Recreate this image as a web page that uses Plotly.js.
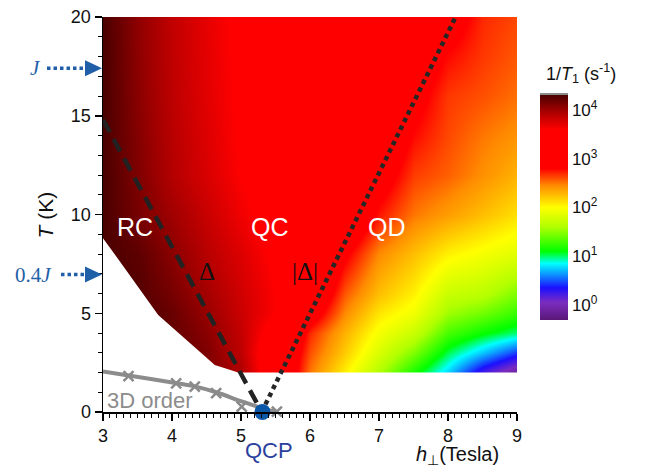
<!DOCTYPE html>
<html><head><meta charset="utf-8">
<script src="https://cdn.plot.ly/plotly-3.0.1.min.js"></script>
<style>html,body{margin:0;padding:0;background:#fff}</style>
</head><body><div id="chart" style="width:647px;height:471px"></div>
<script>
// field grid: transverse field h (T) and temperature T (K); values are log10(1/T1 / s^-1)
const hField = [3, 3.5, 4, 4.5, 5, 5.5, 6, 6.5, 7, 7.5, 8, 8.5, 9];
const tField = [2, 3, 4, 5, 6, 8, 10, 12, 14, 16, 18, 20];
const logRate = [
  [4.31, 4.30, 4.25, 4.12, 3.95, 3.30, 2.50, 2.05, 1.60, 1.15, 0.75, 0.20, -0.15],
  [4.31, 4.30, 4.25, 4.12, 3.88, 3.30, 2.60, 2.20, 1.80, 1.45, 1.02, 0.72, 0.42],
  [4.31, 4.30, 4.22, 4.08, 3.85, 3.45, 2.70, 2.30, 1.95, 1.72, 1.30, 1.12, 0.98],
  [4.31, 4.30, 4.20, 4.03, 3.82, 3.60, 3.00, 2.45, 2.10, 1.93, 1.55, 1.42, 1.25],
  [4.31, 4.28, 4.15, 3.98, 3.80, 3.60, 3.20, 2.58, 2.25, 2.05, 1.72, 1.65, 1.45],
  [4.31, 4.24, 4.08, 3.90, 3.74, 3.56, 3.40, 2.85, 2.45, 2.25, 2.05, 1.95, 1.85],
  [4.31, 4.15, 4.00, 3.83, 3.66, 3.50, 3.38, 3.20, 2.75, 2.50, 2.38, 2.25, 2.12],
  [4.31, 4.12, 3.92, 3.76, 3.60, 3.48, 3.38, 3.28, 2.95, 2.65, 2.56, 2.43, 2.30],
  [4.31, 4.10, 3.90, 3.74, 3.58, 3.47, 3.38, 3.30, 3.10, 2.78, 2.62, 2.50, 2.42],
  [4.31, 4.08, 3.88, 3.72, 3.57, 3.46, 3.38, 3.30, 3.15, 2.90, 2.66, 2.60, 2.52],
  [4.31, 4.07, 3.87, 3.71, 3.56, 3.45, 3.38, 3.30, 3.20, 3.00, 2.78, 2.66, 2.58],
  [4.31, 4.06, 3.86, 3.70, 3.55, 3.45, 3.38, 3.30, 3.22, 3.12, 2.95, 2.70, 2.62]
];
// lower-left edge of the measured region
const edgeH = [3.0, 3.25, 3.54, 3.8, 4.21, 4.62, 4.96];
const edgeT = [8.8, 7.6, 6.18, 4.91, 3.65, 2.38, 2.0];
// gap lines
const gapH = [3.0, 5.3];
const gapT = [14.8, 0];
const absGapH = [5.3, 8.11];
const absGapT = [0, 20];
// 3D order boundary
const orderLineH = [3.0, 3.37, 4.05, 4.33, 4.64, 5.0, 5.3, 5.52];
const orderLineT = [2.05, 1.85, 1.47, 1.3, 1.0, 0.55, 0.2, 0];
const orderPtsH = [3.37, 4.06, 4.33, 4.64, 5.01, 5.52];
const orderPtsT = [1.82, 1.45, 1.28, 0.95, 0.27, 0.02];
// quantum critical point
const qcpH = [5.31];
const qcpT = [0];
// energy scales
const scaleNames = ['<i>J</i>', '0.4<i>J</i>'];
const scaleT = [17.4, 6.96];
// colorbar ticks (log10)
const cbTicks = [0, 1, 2, 3, 4];
const cbText = cbTicks.map(k => '10<sup>' + k + '</sup>');
const cmin = -0.31, cmax = 4.31;

const SANS = 'Liberation Sans, Arial, sans-serif';
const SERIF = 'Liberation Serif, Times New Roman, serif';

const colorscale = [
  [0, '#5a1878'], [0.078, '#7b2cc0'], [0.143, '#1c10ff'], [0.251, '#00ffff'],
  [0.305, '#00ff00'], [0.413, '#b0ff00'], [0.5, '#ffff00'], [0.597, '#ff8c00'],
  [0.673, '#ff0000'], [0.846, '#ff0000'], [0.933, '#a00000'], [1, '#4a0000']
];

const traces = [
  {
    type: 'heatmap', x: hField, y: tField, z: logRate, zsmooth: 'best',
    colorscale: colorscale, zmin: cmin, zmax: cmax, hoverinfo: 'skip',
    colorbar: {
      thickness: 28, thicknessmode: 'pixels', len: 225, lenmode: 'pixels',
      x: 1.0556, xanchor: 'left', xpad: 0, y: 0.5177, yanchor: 'middle', ypad: 0,
      outlinewidth: 0, ticks: '', tickvals: cbTicks, ticktext: cbText,
      tickfont: {family: SANS, size: 17, color: '#111'}
    }
  },
  {
    type: 'scatter', mode: 'lines', hoverinfo: 'skip', showlegend: false,
    x: [2.5].concat(edgeH, [9.5, 9.5, 2.5]),
    y: [edgeT[0]].concat(edgeT, [edgeT[edgeT.length - 1], -1, -1]),
    fill: 'toself', fillcolor: '#ffffff', line: {width: 0, color: 'rgba(0,0,0,0)'}
  },
  {
    type: 'scatter', mode: 'lines', x: gapH, y: gapT, hoverinfo: 'skip', showlegend: false,
    line: {color: '#222222', width: 4.5, dash: '14px,8px'}
  },
  {
    type: 'scatter', mode: 'lines', x: absGapH, y: absGapT, hoverinfo: 'skip', showlegend: false,
    line: {color: '#262626', width: 4.5, dash: '4.5px,4px'}
  },
  {
    type: 'scatter', mode: 'lines', x: orderLineH, y: orderLineT, hoverinfo: 'skip', showlegend: false,
    line: {color: '#8c8c8c', width: 4, shape: 'spline'}, cliponaxis: false
  },
  {
    type: 'scatter', mode: 'markers', x: orderPtsH, y: orderPtsT, hoverinfo: 'skip', showlegend: false,
    marker: {symbol: 'x-thin', size: 10, line: {color: '#8a8a8a', width: 2.5}}, cliponaxis: false
  },
  {
    type: 'scatter', mode: 'markers', x: qcpH, y: qcpT, hoverinfo: 'skip', showlegend: false,
    marker: {size: 16, color: '#0b57a8'}, cliponaxis: false
  }
];

const xp = px => (px - 103) / 414;
const yp = py => 1 - (py - 17) / 395;
const blue = '#1f5fa8';
const shapes = [];
const C = {xanchor: 'center', yanchor: 'middle', showarrow: false};
const annotations = [
  Object.assign({x: 3.46, y: 9.37, text: 'RC', font: {family: SANS, size: 25, color: '#fff'}}, C),
  Object.assign({x: 5.42, y: 9.37, text: 'QC', font: {family: SANS, size: 25, color: '#fff'}}, C),
  Object.assign({x: 7.12, y: 9.37, text: 'QD', font: {family: SANS, size: 25, color: '#fff'}}, C),
  Object.assign({x: 4.5, y: 7.1, text: 'Δ', font: {family: SERIF, size: 25, color: '#111'}}, C),
  Object.assign({x: 5.93, y: 7.1, text: '|Δ|', font: {family: SERIF, size: 25, color: '#111'}}, C),
  Object.assign({x: 3.68, y: 0.6, text: '3D order', font: {family: SANS, size: 22, color: '#8c8c8c'}}, C),
  Object.assign({x: qcpH[0] + 0.1, yref: 'paper', y: yp(450), text: 'QCP', font: {family: SANS, size: 22, color: '#2b3f9e'}}, C),
  Object.assign({xref: 'paper', yref: 'paper', x: xp(457), y: yp(456), text: '<i>h</i><sub>⊥</sub>(Tesla)',
   font: {family: SANS, size: 20, color: '#111'}}, C),
  Object.assign({xref: 'paper', x: xp(45), y: 10, text: '<i>T</i> (K)', textangle: -90,
   font: {family: SANS, size: 21, color: '#111'}}, C),
  Object.assign({xref: 'paper', yref: 'paper', x: xp(581), y: yp(73), text: '1/<i>T</i><sub>1</sub> (s<sup>-1</sup>)',
   font: {family: SANS, size: 18, color: '#111'}}, C)
];
scaleNames.forEach((name, i) => {
  const yy = scaleT[i] / 20;
  const textX = i === 0 ? 35 : 33;
  const lineStart = i === 0 ? 47 : 61;
  annotations.push(Object.assign({xref: 'paper', x: xp(textX), y: scaleT[i], text: name,
    font: {family: SERIF, size: 21, color: blue}}, C));
  shapes.push({type: 'line', xref: 'paper', yref: 'paper', x0: xp(lineStart), x1: xp(86), y0: yy, y1: yy,
    line: {color: blue, width: 3.5, dash: '3.5px,3px'}});
  const h = 8 / 395;
  shapes.push({type: 'path', xref: 'paper', yref: 'paper', fillcolor: blue, line: {width: 0},
    path: `M ${xp(85)} ${yy + h} L ${xp(102)} ${yy} L ${xp(85)} ${yy - h} Z`});
});
// thin grey cap at the top of the colour bar
shapes.push({type: 'rect', xref: 'paper', yref: 'paper', x0: xp(540), x1: xp(568), y0: yp(96), y1: yp(93),
  fillcolor: '#8a8a8a', line: {width: 0}});

const axisCommon = {
  showgrid: false, zeroline: false, showline: true, linecolor: '#000', linewidth: 1.5,
  ticks: 'outside', ticklen: 7, tickwidth: 1.5, tickcolor: '#000',
  tickfont: {family: SANS, size: 18, color: '#111'}
};
const layout = {
  width: 647, height: 471,
  margin: {l: 103, r: 130, t: 17, b: 59},
  paper_bgcolor: '#fff', plot_bgcolor: '#fff', showlegend: false,
  xaxis: Object.assign({}, axisCommon, {range: [3, 9], tickvals: [3,4,5,6,7,8,9],
    minor: {ticks: 'outside', dtick: 0.1, tick0: 3, ticklen: 4, tickwidth: 1, tickcolor: '#000'}}),
  yaxis: Object.assign({}, axisCommon, {range: [0, 20], tickvals: [0,5,10,15,20],
    minor: {ticks: 'outside', dtick: 1, tick0: 0, ticklen: 4, tickwidth: 1, tickcolor: '#000'}}),
  annotations: annotations, shapes: shapes
};
Plotly.newPlot('chart', traces, layout, {displayModeBar: false, staticPlot: true});
</script></body></html>
